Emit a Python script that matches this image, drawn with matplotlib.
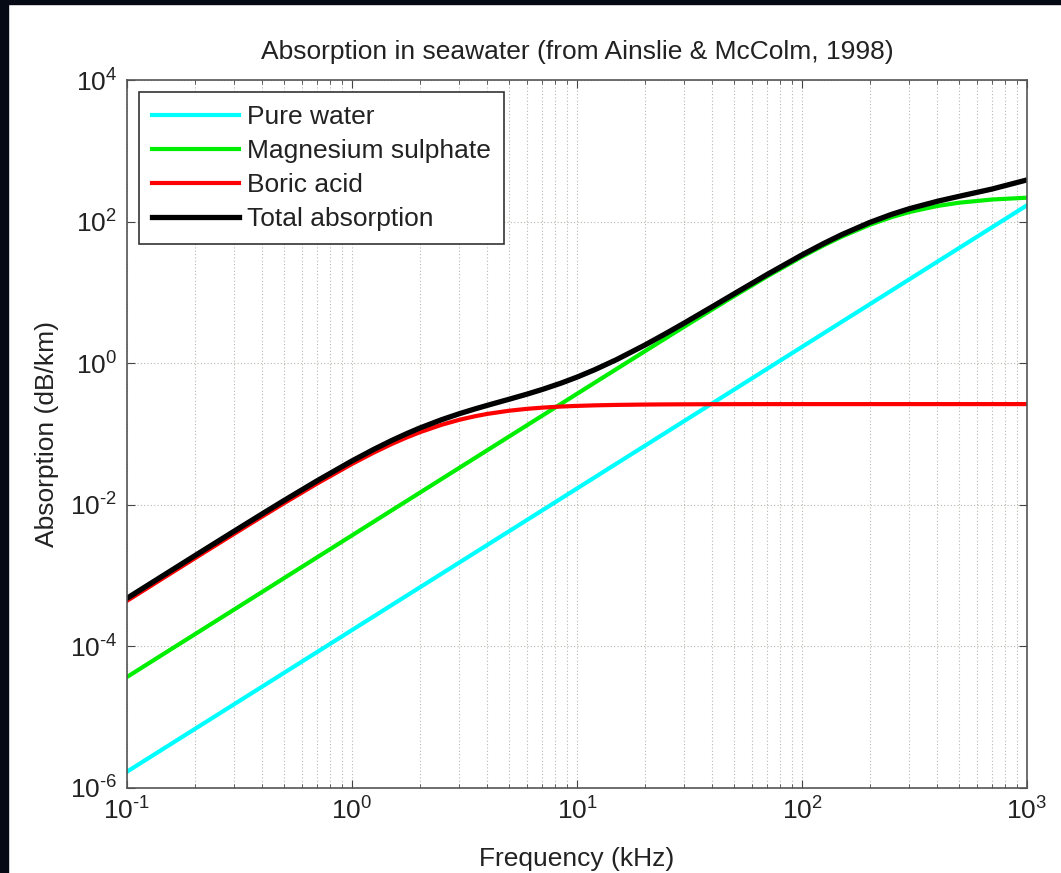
import matplotlib
matplotlib.use("Agg")
import matplotlib.pyplot as plt
from matplotlib.ticker import LogLocator, NullFormatter, FuncFormatter
from matplotlib.patches import Rectangle
import numpy as np

# Frequency (kHz) and absorption (dB/km)
freq = [0.1, 0.15, 0.2, 0.3, 0.4, 0.5, 0.7, 1, 1.25, 1.5, 1.75, 2, 2.5, 3,
        3.5, 4, 5, 6, 7, 8.5, 10, 12, 15, 20, 25, 30, 40, 50, 70, 100, 125,
        150, 200, 250, 300, 400, 500, 700, 1000]
pure_water = [1.7e-6, 3.83e-6, 6.8e-6, 1.53e-5, 2.72e-5, 4.25e-5, 8.33e-5,
              1.7e-4, 2.656e-4, 3.83e-4, 5.206e-4, 6.8e-4, 1.0625e-3,
              1.53e-3, 2.083e-3, 2.72e-3, 4.25e-3, 6.12e-3, 8.33e-3,
              1.228e-2, 1.7e-2, 2.448e-2, 3.83e-2, 6.8e-2, 0.10625, 0.153,
              0.272, 0.425, 0.833, 1.7, 2.656, 3.83, 6.8, 10.625, 15.3, 27.2,
              42.5, 83.3, 170]
magnesium = [3.7e-5, 8.33e-5, 1.48e-4, 3.33e-4, 5.92e-4, 9.25e-4, 1.813e-3,
             3.7e-3, 5.781e-3, 8.33e-3, 1.133e-2, 1.48e-2, 2.312e-2,
             3.33e-2, 4.532e-2, 5.918e-2, 9.25e-2, 0.1331, 0.1812, 0.2670,
             0.3694, 0.5316, 0.8295, 1.471, 2.290, 3.283, 5.772, 8.894,
             16.81, 31.9, 46.25, 61.21, 90.24, 115.6, 136.5, 166.3, 185.0,
             205.1, 217.6]
boric = [4.4e-4, 9.88e-4, 1.752e-3, 3.909e-3, 6.870e-3, 1.058e-2, 1.997e-2,
         3.779e-2, 5.465e-2, 7.214e-2, 8.938e-2, 0.1058, 0.1349, 0.1587,
         0.1775, 0.1924, 0.2133, 0.2267, 0.2357, 0.2442, 0.2495, 0.2539,
         0.2576, 0.2606, 0.2620, 0.2627, 0.2635, 0.2639, 0.2642, 0.2643,
         0.2644, 0.2644, 0.2644, 0.2645, 0.2645, 0.2645, 0.2645, 0.2645,
         0.2645]
total = [4.787e-4, 1.075e-3, 1.907e-3, 4.257e-3, 7.489e-3, 1.155e-2,
         2.187e-2, 4.166e-2, 6.070e-2, 8.085e-2, 0.1012, 0.1213, 0.1591,
         0.1935, 0.2249, 0.2543, 0.3101, 0.3659, 0.4252, 0.5235, 0.6359,
         0.8100, 1.125, 1.800, 2.658, 3.699, 6.308, 9.583, 17.91, 33.86,
         49.17, 65.30, 97.30, 126.5, 152.1, 193.8, 227.8, 288.7, 387.9]
labels = ["Pure water", "Magnesium sulphate", "Boric acid", "Total absorption"]

plt.rcParams['font.family'] = ['Liberation Sans', 'DejaVu Sans']
plt.rcParams['mathtext.fontset'] = 'custom'
plt.rcParams['mathtext.rm'] = 'Liberation Sans'
plt.rcParams['mathtext.it'] = 'Liberation Sans'
plt.rcParams['mathtext.bf'] = 'Liberation Sans'
plt.rcParams['axes.unicode_minus'] = False

FS = 19
fig = plt.figure(figsize=(10.61, 8.73), dpi=100)
fig.patch.set_facecolor('white')
ax = fig.add_axes([127/1061, 85/873, 900/1061, 708/873])

ax.plot(freq, pure_water, color='#00FFFF', lw=3, label=labels[0])
ax.plot(freq, magnesium, color='#00EE00', lw=3, label=labels[1])
ax.plot(freq, boric, color='#FF0000', lw=3, label=labels[2])
ax.plot(freq, total, color='black', lw=3.8, label=labels[3])

ax.set_xscale('log')
ax.set_yscale('log')
ax.set_xlim(0.1, 1000)
ax.set_ylim(1e-6, 1e4)
ax.xaxis.set_major_locator(LogLocator(base=10, numticks=10))
ax.xaxis.set_minor_locator(LogLocator(base=10, subs=range(2, 10), numticks=50))
ax.xaxis.set_minor_formatter(NullFormatter())
ax.set_yticks([1e-6, 1e-4, 1e-2, 1e0, 1e2, 1e4])
ax.yaxis.set_minor_locator(plt.NullLocator())


def pow10(v, pos):
    e = int(round(np.log10(v)))
    if e < 0:
        return r'$10^{\text{-}%d}$' % (-e)
    return r'$10^{%d}$' % e


ax.xaxis.set_major_formatter(FuncFormatter(pow10))
ax.yaxis.set_major_formatter(FuncFormatter(pow10))

gridkw = dict(color='#b8b8b0', linestyle=(0, (1, 2)), linewidth=0.8)
ax.grid(True, which='major', axis='both', **gridkw)
ax.grid(True, which='minor', axis='x', **gridkw)

for s in ax.spines.values():
    s.set_color('#555555')
    s.set_linewidth(1.2)
ax.tick_params(which='both', direction='in', top=True, right=True,
               colors='#444444', labelcolor='#222222', labelsize=FS, pad=7)
ax.tick_params(which='major', length=6)
ax.tick_params(which='minor', length=3)

ax.set_title("Absorption in seawater (from Ainslie & McColm, 1998)",
             fontsize=FS, color='#222222', pad=15)
ax.set_xlabel("Frequency (kHz)", fontsize=FS, color='#222222', labelpad=16)
ax.set_ylabel("Absorption (dB/km)", fontsize=FS, color='#222222')
ax.yaxis.set_label_coords(-0.075, 0.5)

leg = ax.legend(loc='upper left', fontsize=FS, frameon=True, fancybox=False,
                edgecolor='#333333', framealpha=1, handlelength=3.3,
                borderaxespad=0.45, labelspacing=0.38, handletextpad=0.3,
                borderpad=0.5)
leg.get_frame().set_linewidth(1.2)
for t in leg.get_texts():
    t.set_color('#222222')

# black border strips of the reference screenshot
fig.patches.append(Rectangle((0, 1 - 4/873), 1, 4/873, transform=fig.transFigure,
                             color='#050a14', zorder=10))
fig.patches.append(Rectangle((0, 0), 8/1061, 1, transform=fig.transFigure,
                             color='#050a14', zorder=10))

fig.savefig('out.png', dpi=100, facecolor='white')
